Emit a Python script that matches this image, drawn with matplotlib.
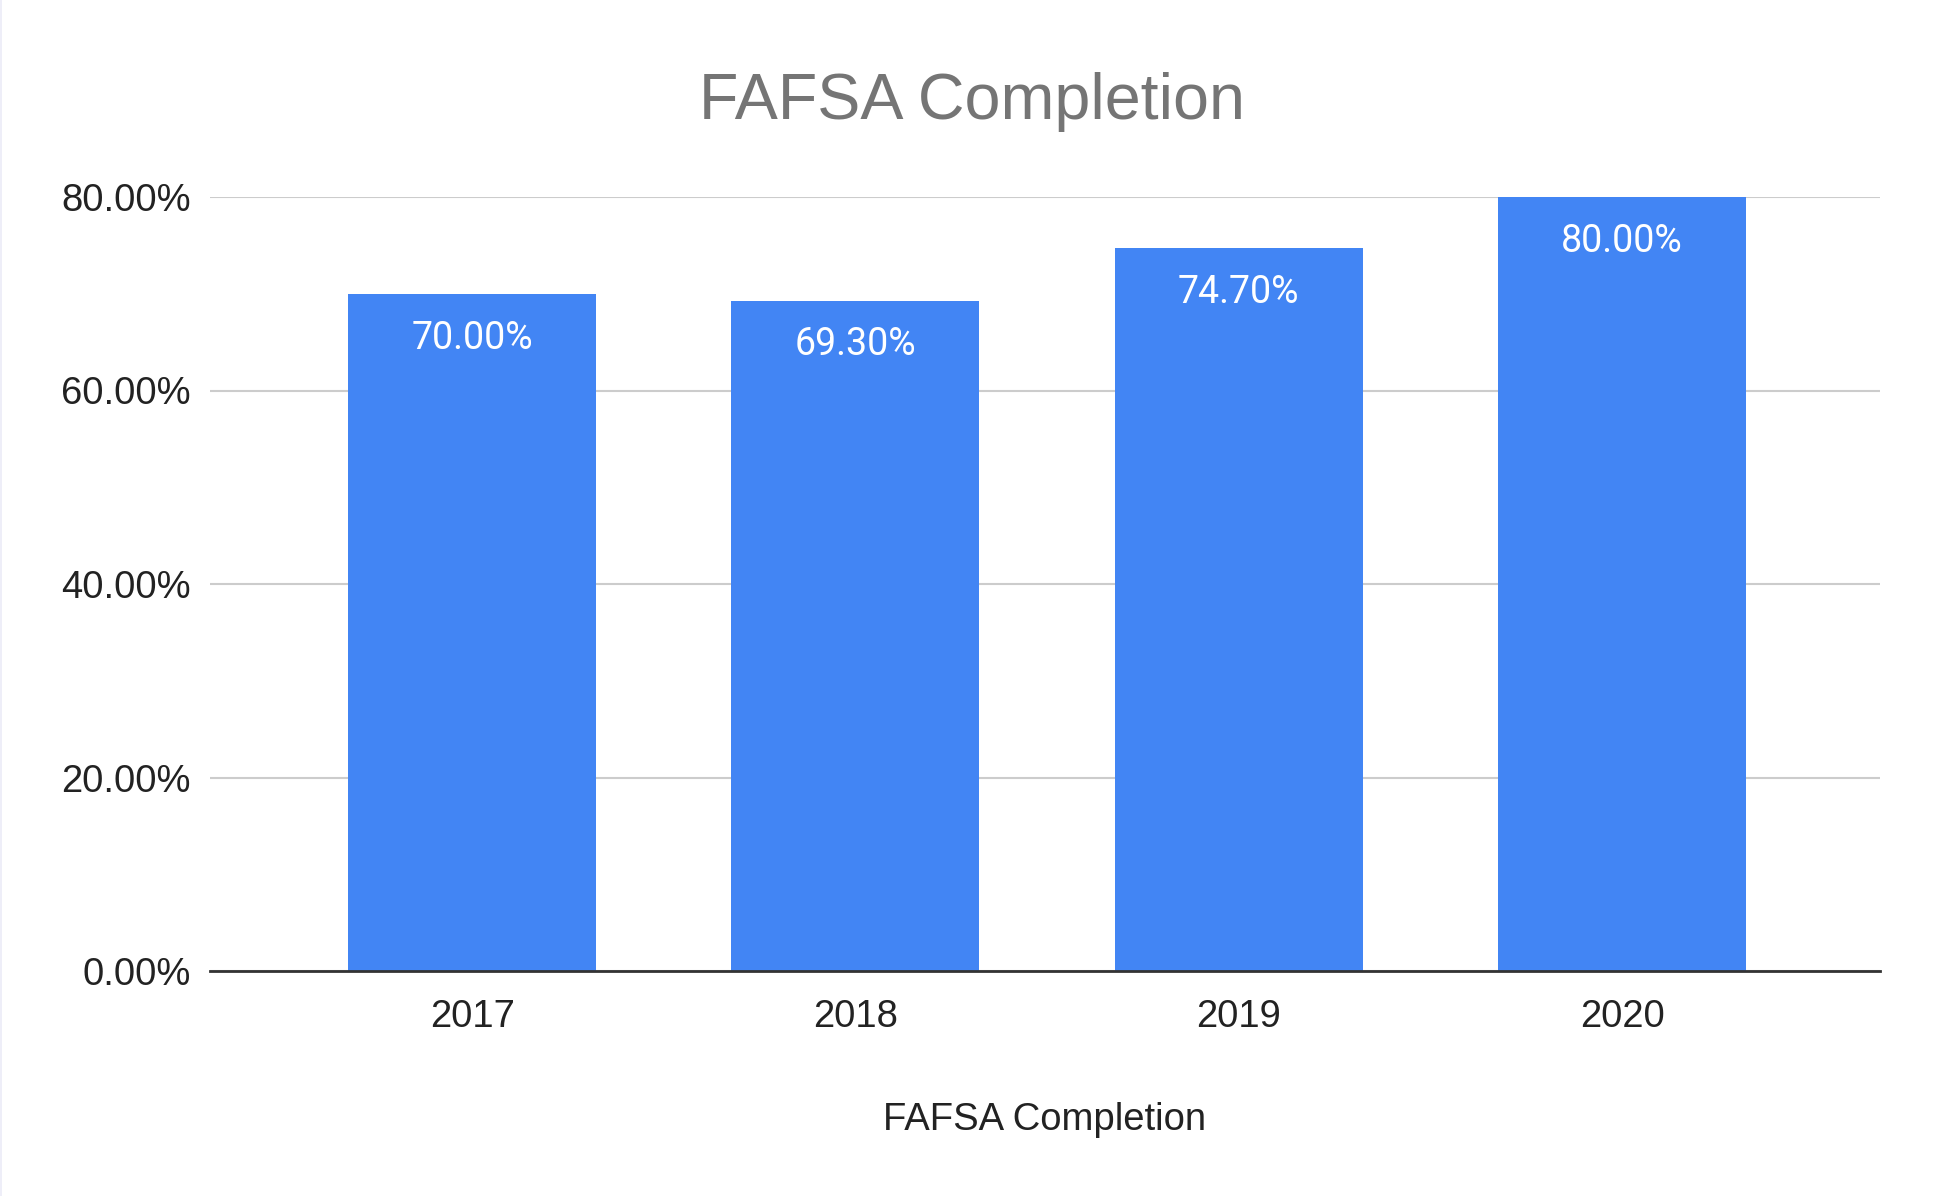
import matplotlib.pyplot as plt
from matplotlib.patches import Rectangle

# Data
years = ["2017", "2018", "2019", "2020"]
completion = [70.00, 69.30, 74.70, 80.00]
y_ticks = [0, 20, 40, 60, 80]

W, H, DPI = 1939, 1196, 100
fig = plt.figure(figsize=(W / DPI, H / DPI), dpi=DPI)
fig.patch.set_facecolor("white")

# axes box in pixels: x 210..1880, y 197 (80%) .. 971 (0%)
left, right = 210 / W, 1880 / W
bottom = 1 - 971 / H
top = 1 - 197 / H
ax = fig.add_axes([left, bottom, right - left, top - bottom])

x = range(len(years))
bars = ax.bar(x, completion, width=0.647, color="#4285F4", zorder=3)

ax.set_xlim(-0.684, len(years) - 1 + 0.673)
ax.set_ylim(0, 80)
ax.set_yticks(y_ticks)
ax.set_yticklabels([f"{v:.2f}%" for v in y_ticks])
ax.set_xticks(list(x))
ax.set_xticklabels(years)

for s in ["top", "right", "left"]:
    ax.spines[s].set_visible(False)
ax.spines["bottom"].set_color("#333333")
ax.spines["bottom"].set_linewidth(2.0)
ax.spines["bottom"].set_zorder(4)

ax.yaxis.grid(True, color="#cccccc", linewidth=1.5, zorder=0)
ax.set_axisbelow(True)
ax.tick_params(axis="both", length=0, labelsize=27.5, labelcolor="#222222",
               labelfontfamily="Liberation Sans")
ax.tick_params(axis="y", pad=14)
ax.tick_params(axis="x", pad=20)

# values inside the bars
for b, v in zip(bars, completion):
    ax.annotate(f"{v:.2f}%", (b.get_x() + b.get_width() / 2, v),
                xytext=(0, -32), textcoords="offset points",
                ha="center", va="center", color="white",
                fontsize=27, family="Roboto", zorder=5)

fig.text(972 / W, 1 - 102 / H, "FAFSA Completion", ha="center", va="center",
         fontsize=46.5, color="#757575", family="Liberation Sans")
fig.text(1045 / W, 1 - 1120 / H, "FAFSA Completion", ha="center", va="center",
         fontsize=27.5, color="#222222", family="Liberation Sans")

# faint border on the left edge
fig.patches.append(Rectangle((0, 0), 2 / W, 1, transform=fig.transFigure,
                             facecolor="#eeeef8", edgecolor="none"))

fig.savefig("out.png", dpi=DPI)
